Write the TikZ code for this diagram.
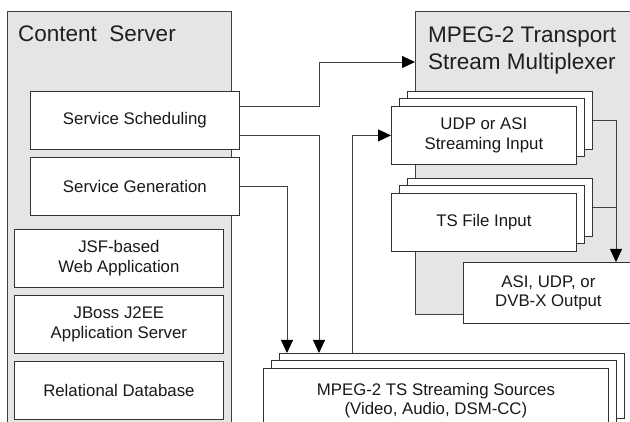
\documentclass[tikz,border=0pt]{standalone}
\usepackage{fontspec}
\setmainfont{Liberation Sans}
\usetikzlibrary{arrows.meta}
\begin{document}
\begin{tikzpicture}[x=1pt,y=-1pt,
  panel/.style={draw=black!75, line width=0.8pt, fill=black!10, inner sep=0pt, anchor=north west},
  title/.style={anchor=base west, inner sep=0pt, font=\fontsize{22.5}{27}\selectfont, text=black!88},
  box/.style={draw=black!80, line width=0.8pt, fill=white, inner sep=0pt, anchor=north west, align=center,
     font=\fontsize{16.8}{19.5}\selectfont, text=black!90},
  wbox/.style={box, minimum width=209pt, minimum height=58pt},
  sbox/.style={box, minimum width=185pt, minimum height=58pt},
  conn/.style={draw=black!75, line width=0.8pt},
  arr/.style={conn, -{Triangle[length=13pt,width=12pt,color=black]}}
]
\useasboundingbox (0,0) rectangle (630,422);
\clip (0,0) rectangle (630,422);
% panels
\node[panel, minimum width=224pt, minimum height=440pt] (cs) at (7,11) {};
\node[title] (cst) at (18,42) {Content\ \ Server};
\node[panel, minimum width=240pt, minimum height=303pt] (mux) at (415,11) {};
\node[title] (muxt1) at (428,43) {MPEG-2 Transport};
\node[title] (muxt2) at (428,70) {Stream Multiplexer};
% content server boxes
\node[wbox] (sched) at (30,91) {Service Scheduling};
\node[wbox] (gen) at (30,157) {Service Generation};
\node[wbox] (jsf) at (14,229) {JSF-based\\Web Application};
\node[wbox] (jboss) at (14,295) {JBoss J2EE\\Application Server};
\node[wbox] (rdb) at (14,361) {Relational Database};
% UDP stack
\node[sbox] (udp3) at (407,91) {};
\node[sbox] (udp2) at (399,98) {};
\node[sbox] (udp1) at (391,106) {UDP or ASI\\Streaming Input};
% TS stack
\node[sbox] (ts3) at (407,178) {};
\node[sbox] (ts2) at (399,185) {};
\node[sbox] (ts1) at (391,193) {TS File Input};
% output
\node[box, minimum width=170pt, minimum height=61pt] (out) at (463,262) {ASI, UDP, or\\DVB-X Output};
% sources stack
\node[box, minimum width=345pt, minimum height=65pt] (src3) at (279,353) {};
\node[box, minimum width=345pt, minimum height=65pt] (src2) at (271,360) {};
\node[box, minimum width=345pt, minimum height=65pt] (src1) at (263,368) {MPEG-2 TS Streaming Sources\\(Video, Audio, DSM-CC)};
% connectors
\draw[arr] ([yshift=14pt]sched.east) -| ([xshift=-96pt,yshift=-51pt]mux.north west) -- ([yshift=-51pt]mux.north west);
\draw[arr] ([yshift=-15pt]sched.east) -| ([xshift=40pt]src3.north west);
\draw[arr] (gen.east) -| ([xshift=8pt]src3.north west);
\draw[arr] ([xshift=73pt]src3.north west) |- (udp1.west);
\draw[arr] (udp3.east) -| ([xshift=153pt]out.north west);
\draw[conn] (ts3.east) -- ([xshift=153pt]out.north west |- ts3.east);
\end{tikzpicture}
\end{document}
